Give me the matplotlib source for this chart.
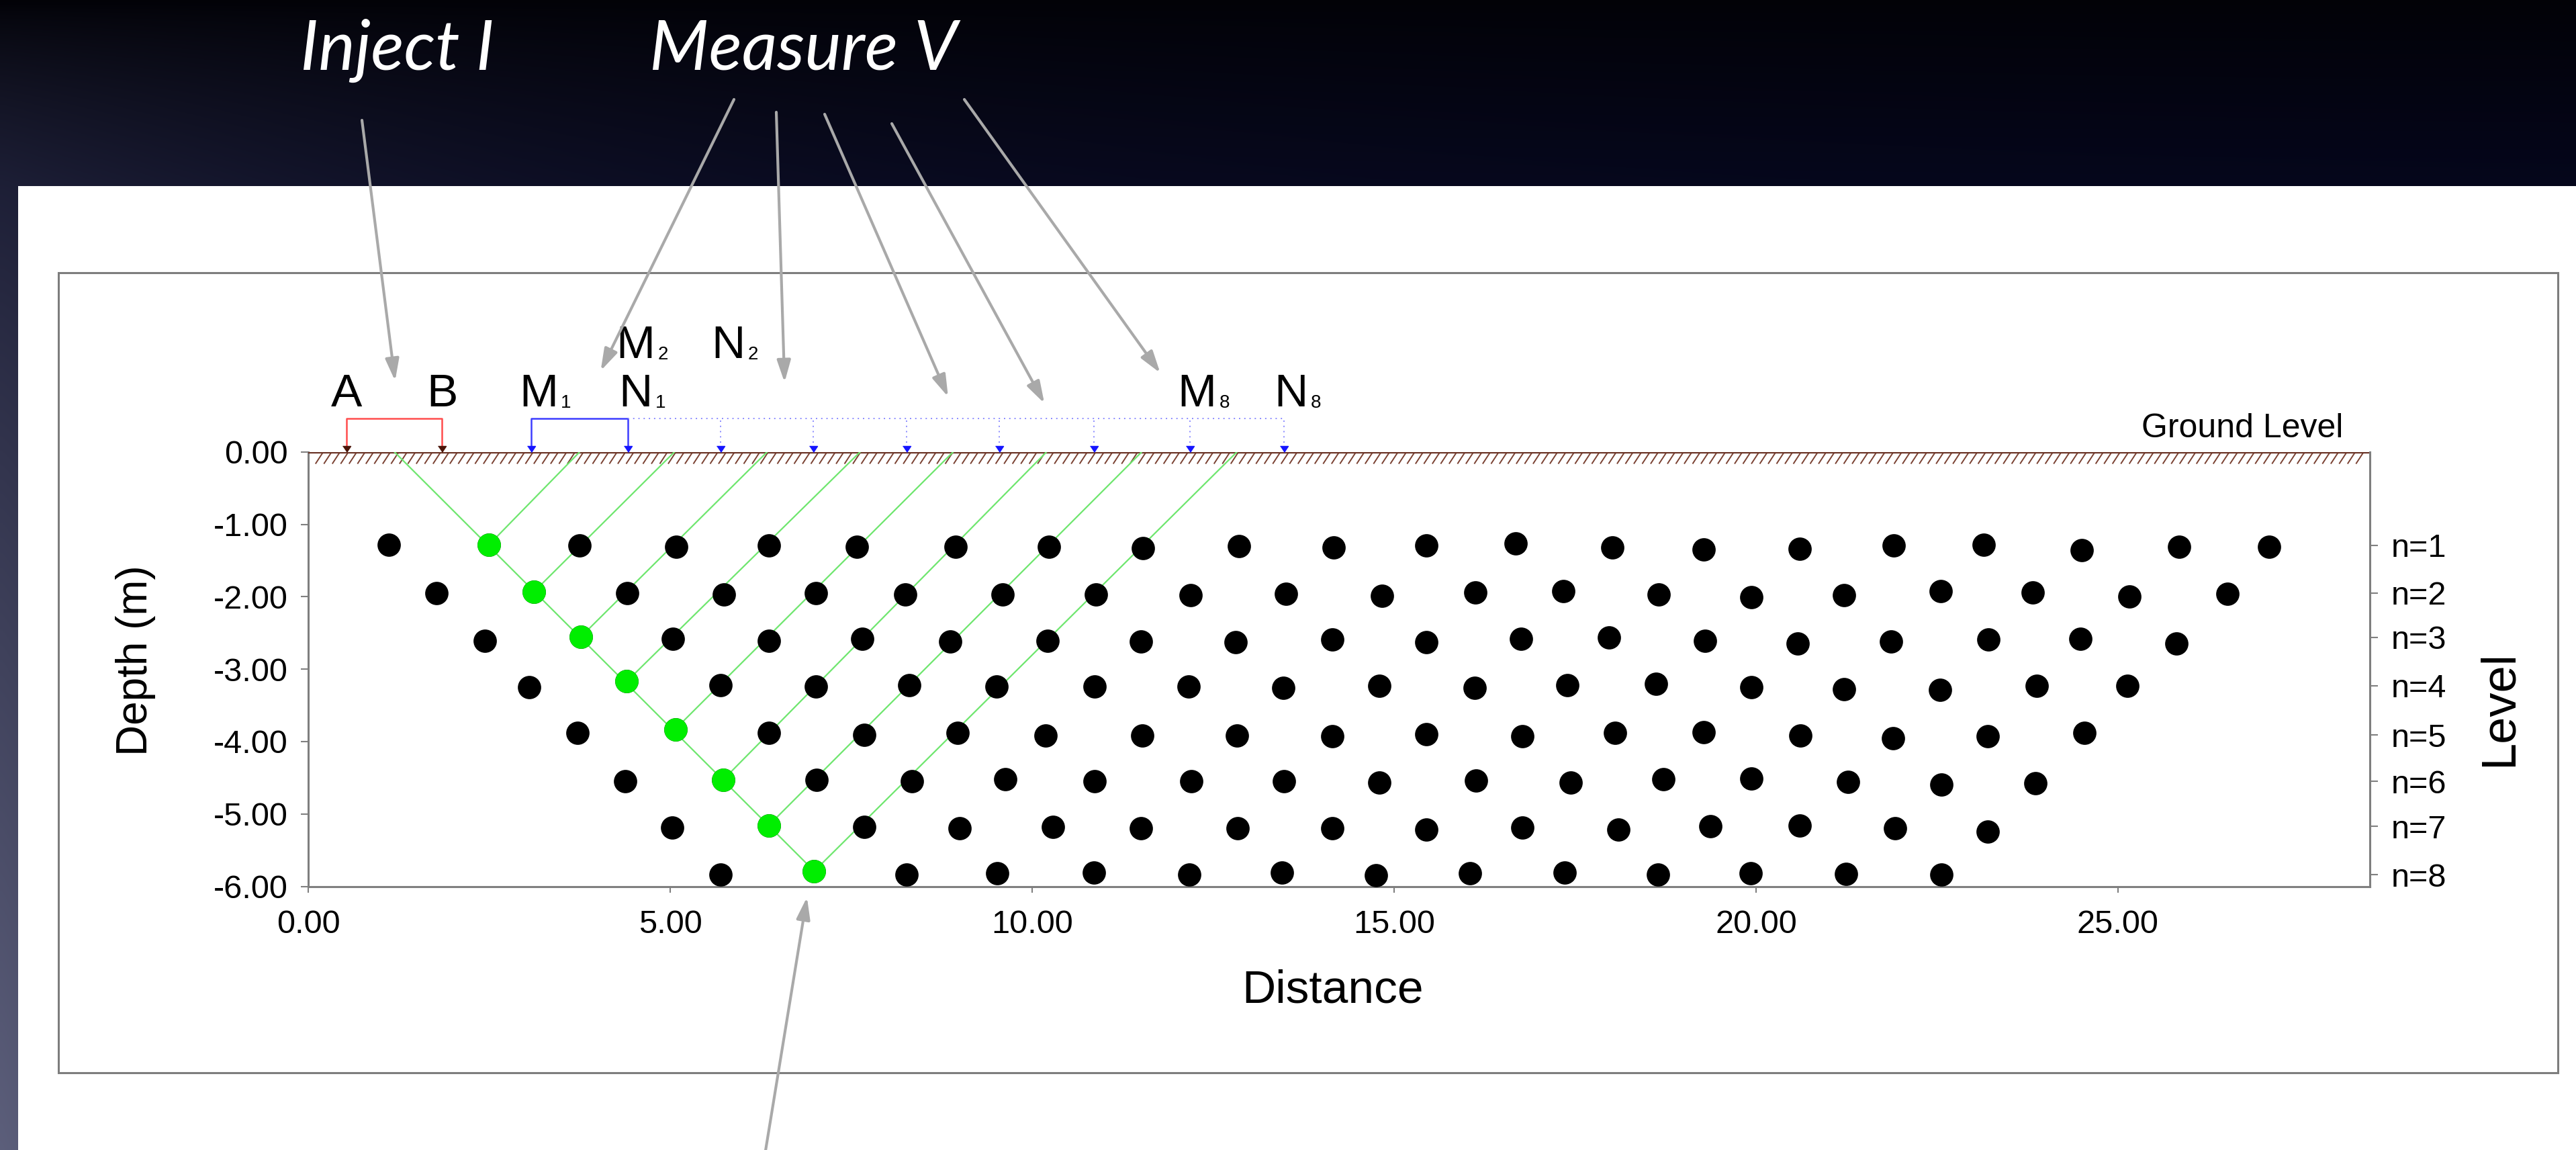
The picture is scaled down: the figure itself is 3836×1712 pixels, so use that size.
import numpy as np
import matplotlib.pyplot as plt
from matplotlib.patches import Rectangle
from matplotlib.collections import LineCollection

plt.rcParams['font.family'] = ['Liberation Sans', 'DejaVu Sans']
plt.rcParams['axes.unicode_minus'] = False

# electrode positions along the line (m): A, B, then M1/N1 ... N8
electrode_x = [0.53, 1.85, 3.08, 4.42, 5.70, 6.98, 8.27, 9.55, 10.85, 12.18, 13.48]

# pseudo-section points, one pair of lists per level n=1..8
level1_x = [1.11, 2.50, 3.75, 5.08, 6.36, 7.58, 8.94, 10.23, 11.53, 12.86, 14.17,
            15.45, 16.68, 18.02, 19.28, 20.60, 21.90, 23.15, 24.50, 25.85, 27.09]
level1_z = [-1.28, -1.28, -1.29, -1.31, -1.29, -1.31, -1.31, -1.31, -1.33, -1.30, -1.32,
            -1.29, -1.26, -1.32, -1.35, -1.34, -1.29, -1.28, -1.36, -1.31, -1.31]
level2_x = [1.77, 3.12, 4.41, 5.74, 7.01, 8.25, 9.59, 10.88, 12.19, 13.51,
            14.83, 16.12, 17.34, 18.66, 19.94, 21.22, 22.55, 23.82, 25.16, 26.51]
level2_z = [-1.95, -1.93, -1.95, -1.97, -1.95, -1.97, -1.97, -1.97, -1.98, -1.96,
            -1.99, -1.94, -1.92, -1.97, -2.01, -1.98, -1.92, -1.94, -2.00, -1.96]
level3_x = [2.44, 3.77, 5.04, 6.36, 7.65, 8.87, 10.21, 11.50, 12.81, 14.15,
            15.45, 16.75, 17.97, 19.30, 20.58, 21.87, 23.21, 24.48, 25.81]
level3_z = [-2.61, -2.55, -2.58, -2.61, -2.58, -2.62, -2.61, -2.62, -2.63, -2.59,
            -2.63, -2.58, -2.56, -2.61, -2.65, -2.62, -2.59, -2.58, -2.65]
level4_x = [3.05, 4.40, 5.70, 7.01, 8.30, 9.51, 10.86, 12.16, 13.47,
            14.80, 16.11, 17.39, 18.62, 19.94, 21.22, 22.54, 23.88, 25.13]
level4_z = [-3.25, -3.17, -3.22, -3.24, -3.22, -3.24, -3.24, -3.24, -3.26,
            -3.23, -3.26, -3.22, -3.20, -3.25, -3.28, -3.29, -3.23, -3.23]
level5_x = [3.72, 5.07, 6.36, 7.68, 8.97, 10.19, 11.52, 12.83, 14.15,
            15.45, 16.77, 18.05, 19.28, 20.61, 21.89, 23.20, 24.54]
level5_z = [-3.88, -3.83, -3.88, -3.91, -3.88, -3.92, -3.92, -3.92, -3.93,
            -3.90, -3.93, -3.88, -3.87, -3.92, -3.95, -3.93, -3.88]
level6_x = [4.38, 5.73, 7.02, 8.34, 9.63, 10.86, 12.20, 13.48,
            14.80, 16.13, 17.44, 18.72, 19.94, 21.27, 22.56, 23.86]
level6_z = [-4.55, -4.53, -4.53, -4.55, -4.52, -4.55, -4.55, -4.55,
            -4.57, -4.54, -4.57, -4.52, -4.51, -4.56, -4.59, -4.58]
level7_x = [5.03, 6.36, 7.68, 9.00, 10.29, 11.50, 12.84, 14.15,
            15.45, 16.77, 18.10, 19.37, 20.60, 21.92, 23.20]
level7_z = [-5.19, -5.16, -5.18, -5.20, -5.18, -5.20, -5.20, -5.20,
            -5.22, -5.19, -5.22, -5.17, -5.16, -5.20, -5.24]
level8_x = [5.70, 6.99, 8.27, 9.52, 10.85, 12.17, 13.45,
            14.75, 16.05, 17.36, 18.65, 19.93, 21.24, 22.56]
level8_z = [-5.84, -5.79, -5.84, -5.82, -5.81, -5.84, -5.81,
            -5.85, -5.82, -5.81, -5.84, -5.82, -5.83, -5.84]

levels_x = [level1_x, level2_x, level3_x, level4_x, level5_x, level6_x, level7_x, level8_x]
levels_z = [level1_z, level2_z, level3_z, level4_z, level5_z, level6_z, level7_z, level8_z]
# point in each level measured with A-B and M_n-N_n
active_idx = [1, 1, 1, 1, 1, 1, 1, 1]

level_tick_z = [-1.29, -1.95, -2.56, -3.23, -3.91, -4.55, -5.17, -5.84]
level_labels = ['n=1', 'n=2', 'n=3', 'n=4', 'n=5', 'n=6', 'n=7', 'n=8']
depth_ticks = [0, -1, -2, -3, -4, -5, -6]
depth_ticklabels = ['0.00', '-1.00', '-2.00', '-3.00', '-4.00', '-5.00', '-6.00']
dist_ticks = [0, 5, 10, 15, 20, 25]
dist_ticklabels = ['0.00', '5.00', '10.00', '15.00', '20.00', '25.00']

# electrode labels: letter, subscript, electrode index, label row
lab_main = ['A', 'B', 'M', 'N', 'M', 'N', 'M', 'N']
lab_sub = ['', '', '1', '1', '2', '2', '8', '8']
lab_elec = [0, 1, 2, 3, 3, 4, 9, 10]
lab_row = [0, 0, 0, 0, 1, 1, 0, 0]

W, H = 3836, 1712
fig = plt.figure(figsize=(W / 100, H / 100), dpi=100)

# dark slide backdrop, lighter towards the lower left
bg = fig.add_axes([0, 0, 1, 1], zorder=-10)
yy, xx = np.mgrid[0:1:214j, 0:1:480j]
top = np.array([0.008, 0.008, 0.03])
navy = np.array([0.02, 0.025, 0.11])
grey = np.array([0.36, 0.37, 0.48])
t = np.clip(yy / 0.162, 0, 1)[..., None]
base = top + (navy - top) * t
glow = (yy ** 0.7 * np.exp(-xx * W / 800))[..., None]
img = np.clip(base + glow * (grey - base), 0, 1)
bg.imshow(img, extent=[0, 1, 0, 1], aspect='auto', interpolation='bicubic')
bg.set_xlim(0, 1)
bg.set_ylim(0, 1)
bg.axis('off')

fig.add_artist(Rectangle((27 / W, 0), 1, 1 - 277 / H, transform=fig.transFigure,
                         facecolor='white', edgecolor='none', zorder=1))
fig.add_artist(Rectangle((87 / W, 1 - 1597 / H), (3809 - 87) / W, (1597 - 406) / H,
                         transform=fig.transFigure, fill=False, edgecolor='#7d7d7d',
                         lw=2.2, zorder=2))

fig.text(447 / W, 1 - 104 / H, 'Inject I', color='white', fontsize=74, style='italic',
         family=['Lato', 'DejaVu Sans'], ha='left', va='baseline')
fig.text(967 / W, 1 - 104 / H, 'Measure V', color='white', fontsize=74, style='italic',
         family=['Lato', 'DejaVu Sans'], ha='left', va='baseline')

ax = fig.add_axes([459 / W, 1 - 1319.5 / H, 3070 / W, 646.8 / H], zorder=5)
ax.set_facecolor('none')
ax.set_xlim(0, 28.48)
ax.set_ylim(-6, 0)
ax.set_xticks(dist_ticks)
ax.set_xticklabels(dist_ticklabels, fontsize=35)
ax.set_yticks(depth_ticks)
ax.set_yticklabels(depth_ticklabels, fontsize=35)
ax.tick_params(axis='y', direction='out', length=8, width=1.5, color='#808080', pad=14)
ax.tick_params(axis='x', direction='out', length=6.5, width=1.5, color='#808080', pad=18)
for side in ['top', 'right']:
    ax.spines[side].set_visible(False)
for side in ['left', 'bottom']:
    ax.spines[side].set_color('#7f7f7f')
    ax.spines[side].set_linewidth(2.2)
ax.set_xlabel('Distance', fontsize=50)
ax.xaxis.set_label_coords(0.497, -0.19)
ax.set_ylabel('Depth (m)', fontsize=46)
ax.yaxis.set_label_coords(-0.074, 0.52)

ax2 = ax.twinx()
ax2.set_zorder(6)
ax2.set_ylim(-6, 0)
ax2.set_yticks(level_tick_z)
ax2.set_yticklabels(level_labels, fontsize=35)
ax2.tick_params(axis='y', direction='out', length=8.6, width=1.5, color='#808080', pad=14)
for side in ['top', 'left', 'bottom']:
    ax2.spines[side].set_visible(False)
ax2.spines['right'].set_color('#7f7f7f')
ax2.spines['right'].set_linewidth(2.2)
ax2.set_ylabel('Level', fontsize=52)
ax2.yaxis.set_label_coords(1.052, 0.41)

# ground surface with hatching below it
hx = np.arange(0.10, 28.40, 0.116)
segs = [[(x, -0.165), (x + 0.10, -0.012)] for x in hx]
ax.add_collection(LineCollection(segs, colors='#7a4132', linewidths=1.4, zorder=2))
ax.axhline(0, color='#6b3527', lw=2.4, zorder=3)
ax.text(28.11, 0.20, 'Ground Level', fontsize=36, ha='right', va='baseline')

# ray paths to the active points
gx = [levels_x[i][active_idx[i]] for i in range(8)]
gz = [levels_z[i][active_idx[i]] for i in range(8)]
ab_mid = (electrode_x[0] + electrode_x[1]) / 2
ax.plot([ab_mid, gx[-1]], [0, gz[-1]], color='#6ee66e', lw=1.6, zorder=3)
for k in range(8):
    mn_mid = (electrode_x[k + 2] + electrode_x[k + 3]) / 2
    ax.plot([mn_mid, gx[k]], [0, gz[k]], color='#6ee66e', lw=1.6, zorder=3)

for xs, zs in zip(levels_x, levels_z):
    ax.plot(xs, zs, 'o', color='black', ms=25, mew=0, zorder=4, clip_on=False)
ax.plot(gx, gz, 'o', color='#00ee00', ms=25, mew=0, zorder=5, clip_on=False)

# electrodes and connections
tri = [(-6, 9), (6, 9), (0, 0)]
ax.plot(electrode_x[:2], [0, 0], ls='none', marker=tri, ms=13, color='#4a1408',
        zorder=6, clip_on=False)
ax.plot(electrode_x[2:], [0] * 9, ls='none', marker=tri, ms=13, color='#1515ff',
        zorder=6, clip_on=False)
bh = 0.46
a, b, m1, n1 = electrode_x[:4]
ax.plot([a, a, b, b], [0.08, bh, bh, 0.08], color='#ff4d4d', lw=1.8, clip_on=False)
ax.plot([m1, m1, n1, n1], [0.08, bh, bh, 0.08], color='#3d3dff', lw=1.8, clip_on=False)
ax.plot([n1, electrode_x[-1]], [bh, bh], color='#8a8aff', lw=1.4, ls=(0, (1, 3)),
        clip_on=False)
for x in electrode_x[4:]:
    ax.plot([x, x], [bh - 0.03, 0.08], color='#8a8aff', lw=1.4, ls=(0, (1, 3)),
            clip_on=False)

row_y = [0.63, 1.30]
for m, s, e, r in zip(lab_main, lab_sub, lab_elec, lab_row):
    shift = 0.1 if s else 0.0
    txt = ax.text(electrode_x[e] + shift, row_y[r], m, fontsize=50, ha='center',
                  va='baseline', clip_on=False)
    if s:
        ax.annotate(s, xy=(1, 0), xycoords=txt, xytext=(3, 4), textcoords='offset points',
                    fontsize=20, ha='left', va='bottom')

# callout arrows
arrow_tails = [(539, 179), (1093, 148), (1156, 167), (1228, 170), (1328, 184),
               (1436, 148), (1138, 1725)]
arrow_tips = [(1.20, 0.98), (4.04, 1.12), (6.58, 0.96), (8.84, 0.76), (10.17, 0.67),
              (11.77, 1.09), (6.89, -6.15)]
for (tx, ty), tip in zip(arrow_tails, arrow_tips):
    ax.annotate('', xy=tip, xycoords='data', xytext=(tx / W, 1 - ty / H),
                textcoords='figure fraction', annotation_clip=False, zorder=20,
                arrowprops=dict(arrowstyle='-|>,head_length=0.9,head_width=0.28',
                                color='#a9a9a9', lw=3, mutation_scale=22,
                                shrinkA=0, shrinkB=0))

fig.savefig('out.png', dpi=100)
